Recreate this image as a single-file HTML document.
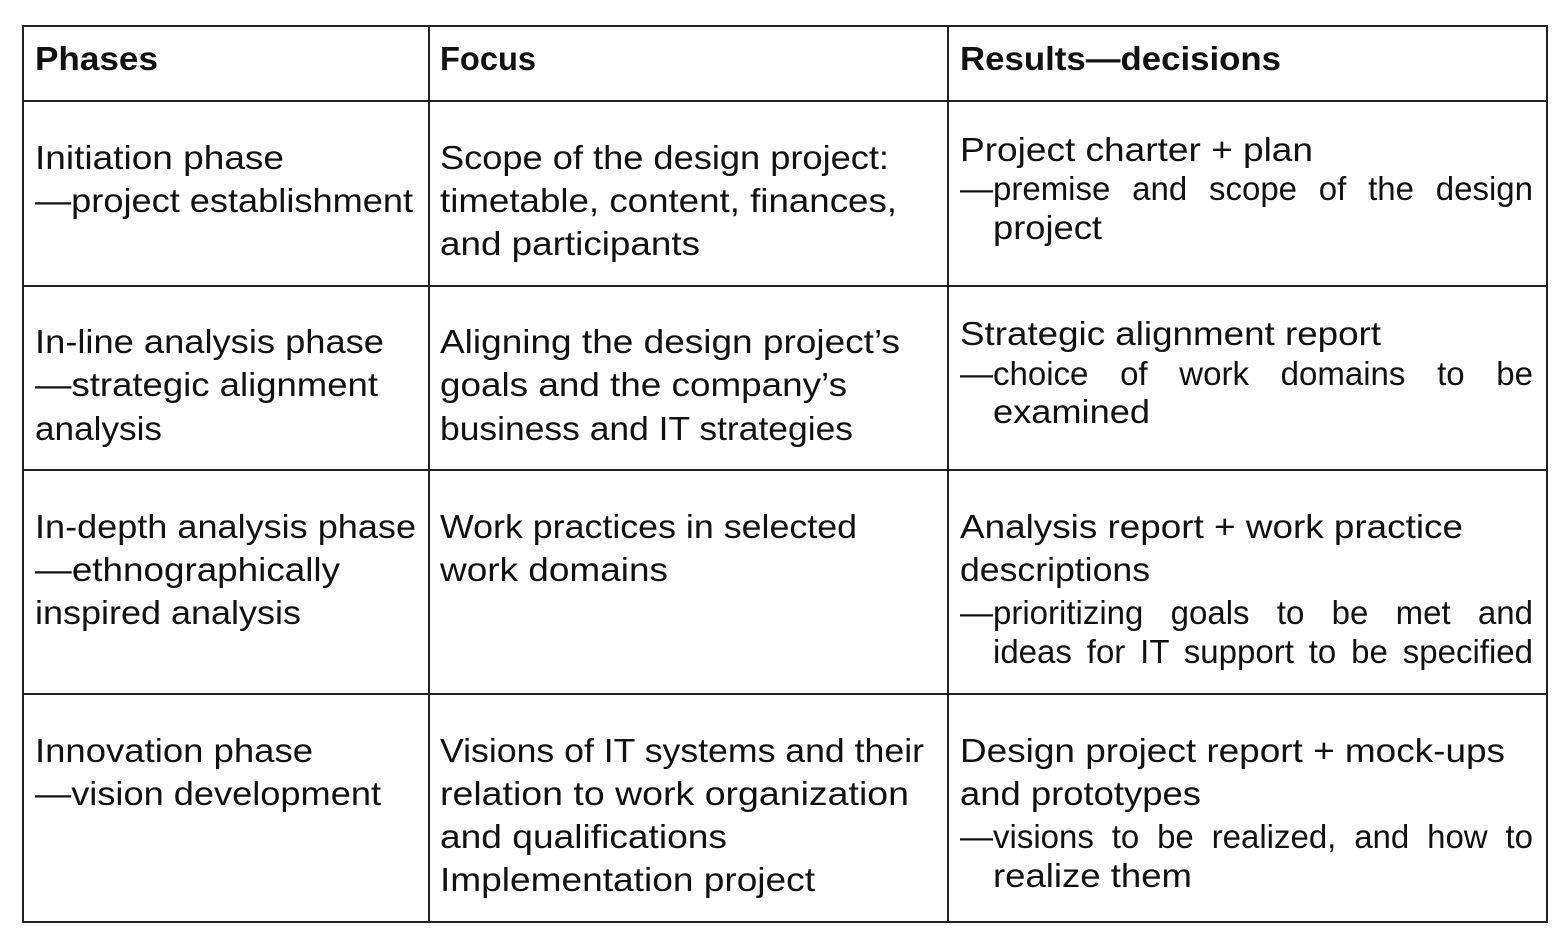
<!DOCTYPE html>
<html><head><meta charset="utf-8">
<style>
html,body{margin:0;padding:0;background:#fff;}
body{width:1562px;height:934px;position:relative;overflow:hidden;font-family:"Liberation Sans",sans-serif;color:#111;}
.ln{position:absolute;background:#222;}
.t{position:absolute;font-size:33px;line-height:40px;height:40px;white-space:nowrap;transform-origin:0 50%;}
.b{font-weight:bold;}
.j{text-align:justify;text-align-last:justify;white-space:normal;overflow:hidden;}
</style></head><body>
<div id="tbl">
<div class="ln" style="left:23px;top:25px;width:1525px;height:2px"></div>
<div class="ln" style="left:23px;top:921px;width:1525px;height:2px"></div>
<div class="ln" style="left:22px;top:25px;width:2px;height:898px"></div>
<div class="ln" style="left:1546px;top:25px;width:2px;height:898px"></div>
<div class="ln" style="left:428px;top:25px;width:2px;height:898px"></div>
<div class="ln" style="left:947px;top:25px;width:2px;height:898px"></div>
<div class="ln" style="left:23px;top:100px;width:1525px;height:2px"></div>
<div class="ln" style="left:23px;top:285px;width:1525px;height:2px"></div>
<div class="ln" style="left:23px;top:469px;width:1525px;height:2px"></div>
<div class="ln" style="left:23px;top:693px;width:1525px;height:2px"></div>
</div>
<script>
const lines=[
[35,58,"Phases","b",123,"header-phases"],
[440,58,"Focus","b",96,"header-focus"],
[960,58,"Results—decisions","b",321,"header-results"],
[35,157,"Initiation phase","",249,"phase-initiation"],
[35,200,"—project establishment","",378,"phase-initiation-sub"],
[440,157,"Scope of the design project:","",449,"focus-initiation-1"],
[440,200,"timetable, content, finances,","",457,"focus-initiation-2"],
[440,243,"and participants","",260,"focus-initiation-3"],
[960,149,"Project charter + plan","",353,"result-initiation-1"],
[960,188,"—premise and scope of the design","j",573,"result-initiation-2"],
[993,227,"project","",109,"result-initiation-3"],
[35,341,"In-line analysis phase","",349,"phase-inline"],
[35,384,"—strategic alignment","",343,"phase-inline-sub"],
[35,428,"analysis","",127,"phase-inline-sub-2"],
[440,341,"Aligning the design project’s","",460,"focus-inline-1"],
[440,384,"goals and the company’s","",407,"focus-inline-2"],
[440,428,"business and IT strategies","",413,"focus-inline-3"],
[960,333,"Strategic alignment report","",421,"result-inline-1"],
[960,373,"—choice of work domains to be","j",573,"result-inline-2"],
[993,411,"examined","",157,"result-inline-3"],
[35,526,"In-depth analysis phase","",381,"phase-indepth"],
[35,569,"—ethnographically","",305,"phase-indepth-sub"],
[35,612,"inspired analysis","",266,"phase-indepth-sub-2"],
[440,526,"Work practices in selected","",417,"focus-indepth-1"],
[440,569,"work domains","",228,"focus-indepth-2"],
[960,526,"Analysis report + work practice","",503,"result-indepth-1"],
[960,569,"descriptions","",190,"result-indepth-2"],
[960,612,"—prioritizing goals to be met and","j",573,"result-indepth-3"],
[993,651,"ideas for IT support to be specified","j",540,"result-indepth-4"],
[35,750,"Innovation phase","",278,"phase-innovation"],
[35,793,"—vision development","",346,"phase-innovation-sub"],
[440,750,"Visions of IT systems and their","",484,"focus-innovation-1"],
[440,793,"relation to work organization","",469,"focus-innovation-2"],
[440,836,"and qualifications","",287,"focus-innovation-3"],
[440,879,"Implementation project","",375,"focus-innovation-4"],
[960,750,"Design project report + mock-ups","",545,"result-innovation-1"],
[960,793,"and prototypes","",241,"result-innovation-2"],
[960,836,"—visions to be realized, and how to","j",573,"result-innovation-3"],
[993,875,"realize them","",199,"result-innovation-4"]
];
for(const [x,y,txt,cls,w,name] of lines){
  const d=document.createElement('div');
  d.className='t '+cls;
  d.style.left=x+'px';d.style.top=(y-19)+'px';
  d.textContent=txt;
  
  
  document.body.appendChild(d);
  if(cls==='j'){d.style.width=w+'px';}
  else{const mw=d.getBoundingClientRect().width;if(mw>0)d.style.transform='scaleX('+(w/mw)+')';}
}
</script>
</body></html>
